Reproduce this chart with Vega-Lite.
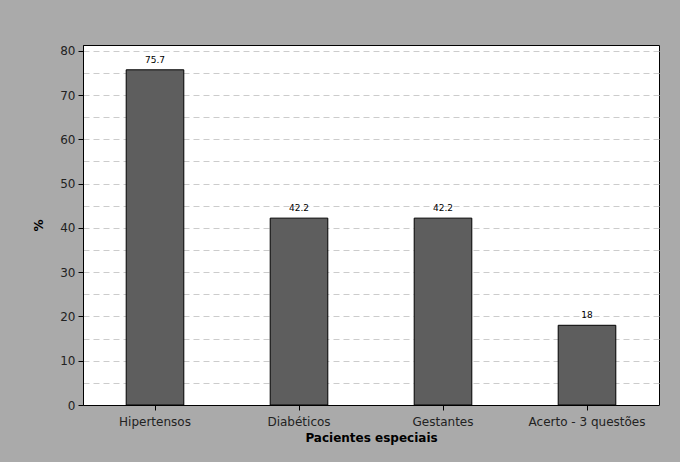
{
  "$schema": "https://vega.github.io/schema/vega-lite/v6.json",
  "autosize": {"type": "none"},
  "width": 576,
  "height": 360,
  "padding": {"left": 83, "top": 45, "right": 21, "bottom": 57},
  "background": "#aaaaaa",
  "data": {"values": [
    {"categoria": "Hipertensos", "pct": 75.7},
    {"categoria": "Diabéticos", "pct": 42.2},
    {"categoria": "Gestantes", "pct": 42.2},
    {"categoria": "Acerto - 3 questões", "pct": 18}
  ]},
  "config": {
    "view": {"fill": "white", "stroke": "black", "strokeWidth": 1},
    "font": "DejaVu Sans"
  },
  "encoding": {
    "x": {
      "field": "categoria", "type": "nominal", "sort": null,
      "scale": {"paddingInner": 0.6, "paddingOuter": 0.3},
      "axis": {
        "title": "Pacientes especiais", "titleFont": "DejaVu Sans", "titleFontSize": 12, "titleFontWeight": "bold", "titleColor": "black", "titlePadding": 5,
        "labelAngle": 0, "labelFontSize": 12, "labelColor": "#222222", "labelPadding": 6,
        "tickColor": "black", "tickSize": 5, "domainColor": "black", "grid": false
      }
    },
    "y": {
      "field": "pct", "type": "quantitative",
      "scale": {"domain": [0, 81.3], "nice": false},
      "axis": {
        "title": "%", "titleFontSize": 12, "titleFontWeight": "bold", "titleColor": "black", "titlePadding": 14,
        "values": [0, 5, 10, 15, 20, 25, 30, 35, 40, 45, 50, 55, 60, 65, 70, 75, 80],
        "labelExpr": "datum.value % 10 == 0 ? datum.label : ''",
        "labelFontSize": 12, "labelColor": "#222222", "labelPadding": 3,
        "tickSize": 5, "tickColor": "black",
        "tickOpacity": {"condition": {"test": "datum.value % 10 != 0", "value": 0}, "value": 1},
        "domainColor": "black",
        "grid": true, "gridColor": "#cccccc", "gridDash": [6, 4], "gridWidth": 1
      }
    }
  },
  "layer": [
    {"mark": {"type": "bar", "fill": "#5e5e5e", "stroke": "black", "strokeWidth": 1}},
    {"mark": {"type": "text", "baseline": "bottom", "dy": -5, "fontSize": 9, "color": "black"},
     "encoding": {"text": {"field": "pct", "type": "quantitative"}}}
  ]
}
